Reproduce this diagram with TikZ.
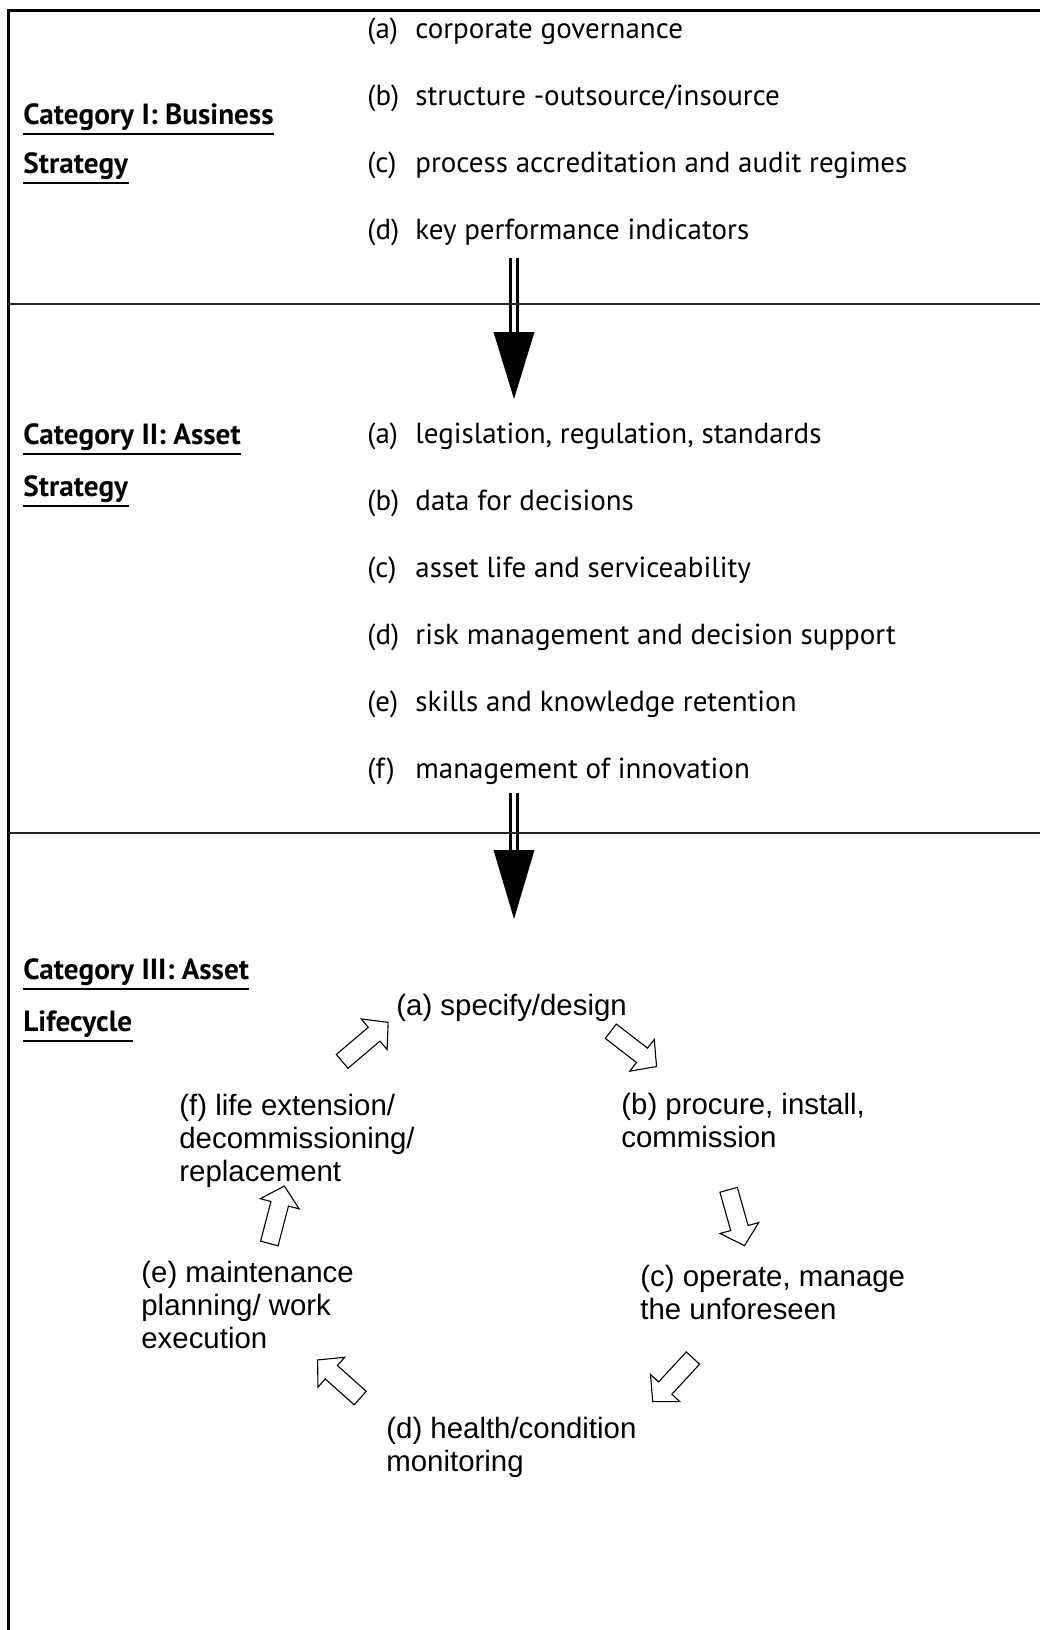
\documentclass[tikz,border=0pt]{standalone}
\usepackage{fontspec}
\setmainfont{PT Sans}
\newfontfamily\lifefont{Liberation Sans}
\usetikzlibrary{shapes.arrows,calc}

\begin{document}
\begin{tikzpicture}[x=0.5pt, y=-0.5pt,
    category/.style={anchor=base west, inner sep=0pt, font=\fontsize{14.6}{17}\selectfont\bfseries},
    item/.style={anchor=base west, inner sep=0pt, font=\fontsize{14.5}{17}\selectfont},
    stage/.style={anchor=base west, inner sep=0pt, align=left, font=\lifefont\fontsize{14.7}{16.5}\selectfont},
    frame/.style={line width=1.5pt},
    divider/.style={line width=0.8pt, black!85},
    uline/.style={line width=1pt},
    shaft/.style={double, double distance=2pt, line width=1.45pt},
    lifearrow/.style={single arrow, draw, line width=0.55pt, fill=white, inner xsep=0pt, inner ysep=4.25pt, single arrow head extend=5.5pt, single arrow tip angle=95}
]
\useasboundingbox (0,0) rectangle (1040,1630);

% outer frame (open at right and bottom)
\draw[frame] (1045,10) -- (8,10) -- (8,1635);

% Category I
\node[category] (cat1a) at (23,124) {Category I: Business};
\node[category] (cat1b) at (23,173) {Strategy};

\node[item] (l1a) at (367,38) {(a)};  \node[item] (t1a) at (415,38) {corporate governance};
\node[item] (l1b) at (367,105) {(b)}; \node[item] (t1b) at (415,105) {structure -outsource/insource};
\node[item] (l1c) at (367,172) {(c)}; \node[item] (t1c) at (415,172) {process accreditation and audit regimes};
\node[item] (l1d) at (367,239) {(d)}; \node[item] (t1d) at (415,239) {key performance indicators};

% arrow I -> II
\coordinate (s1top) at (514,258);
\coordinate (s1base) at (514,332);
\coordinate (s1tip) at (514,399);
\draw[shaft] (s1top) -- (s1base);
\fill ($(s1base)+(-20.5,0)$) -- ($(s1base)+(20.5,0)$) -- (s1tip) -- cycle;

% Category II
\node[category] (cat2a) at (23,444) {Category II: Asset};
\node[category] (cat2b) at (23,496) {Strategy};

\node[item] (l2a) at (367,443) {(a)}; \node[item] (t2a) at (415,443) {legislation, regulation, standards};
\node[item] (l2b) at (367,510) {(b)}; \node[item] (t2b) at (415,510) {data for decisions};
\node[item] (l2c) at (367,577) {(c)}; \node[item] (t2c) at (415,577) {asset life and serviceability};
\node[item] (l2d) at (367,644) {(d)}; \node[item] (t2d) at (415,644) {risk management and decision support};
\node[item] (l2e) at (367,711) {(e)}; \node[item] (t2e) at (415,711) {skills and knowledge retention};
\node[item] (l2f) at (367,778) {(f)}; \node[item] (t2f) at (415,778) {management of innovation};

% arrow II -> III
\coordinate (s2top) at (514,793);
\coordinate (s2base) at (514,850);
\coordinate (s2tip) at (514,919);
\draw[shaft] (s2top) -- (s2base);
\fill ($(s2base)+(-20.5,0)$) -- ($(s2base)+(20.5,0)$) -- (s2tip) -- cycle;

% section dividers
\draw[divider] (8,304) -- (1045,304);
\draw[divider] (8,833) -- (1045,833);

% Category III
\node[category] (cat3a) at (23,979) {Category III: Asset};
\node[category] (cat3b) at (23,1031) {Lifecycle};

\foreach \n in {cat1a,cat1b,cat2a,cat2b,cat3a,cat3b}
  \draw[uline] ([yshift=-1.6pt]\n.south west) -- ([yshift=-1.6pt]\n.south east);

% lifecycle stages (base = last line)
\node[stage] (specify) at (396,1015) {(a) specify/design};
\node[stage] (procure) at (621,1147) {(b) procure, install,\\commission};
\node[stage] (operate) at (640,1319) {(c) operate, manage\\the unforeseen};
\node[stage] (monitor) at (386,1471) {(d) health/condition\\monitoring};
\node[stage] (maintain) at (141,1348) {(e) maintenance\\planning/ work\\execution};
\node[stage] (extend) at (179,1181) {(f) life extension/\\decommissioning/\\replacement};

% block arrows round the cycle
\coordinate (fa-s) at (339,1064);   \coordinate (fa-e) at (385,1025);
\coordinate (ab-s) at (607.5,1028.7); \coordinate (ab-e) at (653.3,1064);
\coordinate (bc-s) at (727.5,1185.8); \coordinate (bc-e) at (743.3,1241.7);
\coordinate (cd-s) at (695.8,1355); \coordinate (cd-e) at (655.5,1398.5);
\coordinate (de-s) at (363.3,1400.8); \coordinate (de-e) at (320.7,1362.7);
\coordinate (ef-s) at (268.3,1247.5); \coordinate (ef-e) at (283.3,1190);

\foreach \a in {fa,ab,bc,cd,de,ef}
  \path let \p1=(\a-s), \p2=(\a-e), \n1={atan2(\y2-\y1,\x2-\x1)}, \n2={veclen(\x2-\x1,\y2-\y1)} in
    node[lifearrow, rotate=\n1, minimum height=\n2] (\a) at ($(\a-s)!0.5!(\a-e)$) {};

\end{tikzpicture}
\end{document}
